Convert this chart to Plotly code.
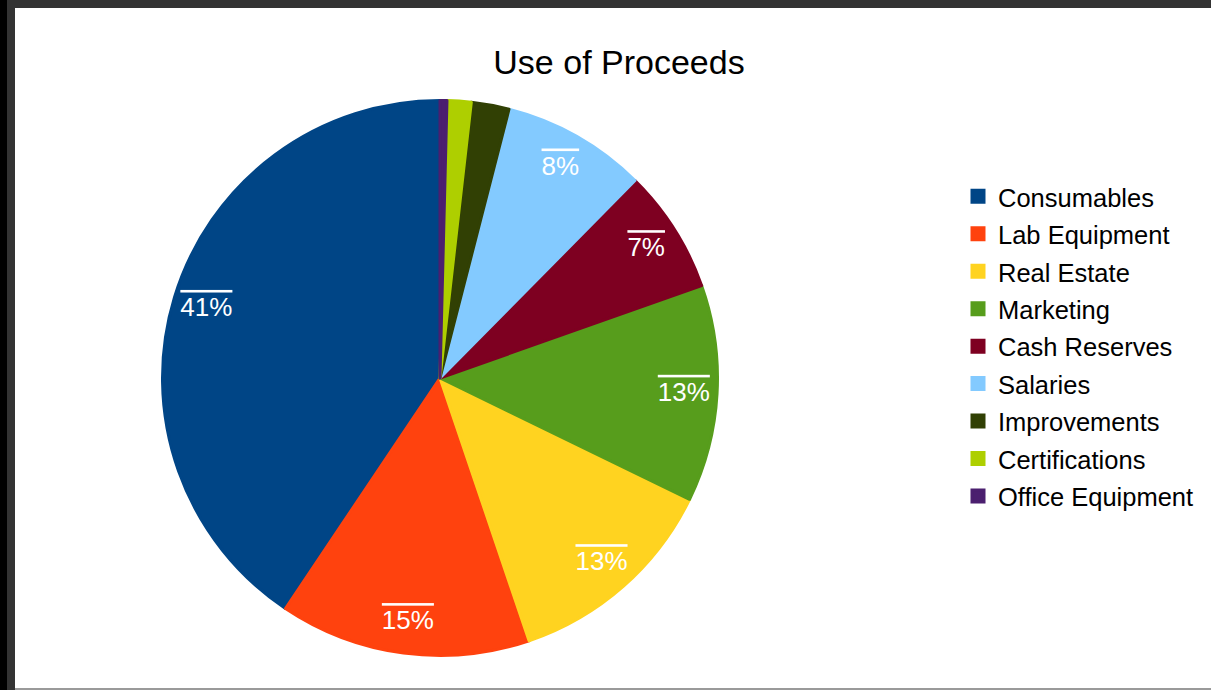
import plotly.graph_objects as go

# ---- data ----
categories = ["Consumables", "Lab Equipment", "Real Estate", "Marketing", "Cash Reserves",
              "Salaries", "Improvements", "Certifications", "Office Equipment"]
values = [40.6, 14.6, 12.6, 12.6, 7.2, 8.4, 2.2, 1.4, 0.4]
colors = ["#004586", "#ff420e", "#ffd320", "#579d1c", "#7e0021",
          "#83caff", "#314004", "#aecf00", "#4b1f6f"]
show_label = [True, True, True, True, True, True, False, False, False]
title_text = "Use of Proceeds"

W, H = 1211, 690
FONT = "Liberation Sans, Arial, sans-serif"

# pie geometry (pixels)
cx, cy, R = 440, 378, 277.5
dom_x = [(cx - R) / W, (cx + R) / W]
dom_y = [(H - cy - R) / H, (H - cy + R) / H]

# plotly's counterclockwise mode ends the first slice at `rotation`;
# shift so that the first slice starts at 12 o'clock instead
rot = -360.0 * values[0] / sum(values)

legend_labels = ["<span style='font-size:25.5px'>%s</span>" % c for c in categories]

fig = go.Figure()

# main pie
fig.add_trace(go.Pie(
    labels=legend_labels, values=values, sort=False, direction="counterclockwise", rotation=rot,
    marker=dict(colors=colors, line=dict(width=3, color=colors)),
    textinfo="none", domain=dict(x=dom_x, y=dom_y), showlegend=True,
    hoverinfo="label+percent",
))

# label layer (transparent ring, positions labels near the rim)
templates = ['<span style="text-decoration:overline">%{percent:.0%}</span>' if s else ""
             for s in show_label]
fig.add_trace(go.Pie(
    labels=legend_labels, values=values, sort=False, direction="counterclockwise", rotation=rot,
    hole=0.76,
    marker=dict(colors=["rgba(0,0,0,0)"] * len(values), line=dict(width=0)),
    texttemplate=templates, textposition="inside", insidetextorientation="horizontal",
    insidetextfont=dict(color="white", size=26, family=FONT),
    domain=dict(x=dom_x, y=dom_y), showlegend=False, hoverinfo="skip",
))

shapes = [
    dict(type="rect", xref="paper", yref="paper", x0=0, x1=7 / W, y0=0, y1=1,
         fillcolor="#000000", line=dict(width=0), layer="above"),
    dict(type="rect", xref="paper", yref="paper", x0=7 / W, x1=15 / W, y0=0, y1=1,
         fillcolor="#333333", line=dict(width=0), layer="above"),
    dict(type="rect", xref="paper", yref="paper", x0=7 / W, x1=1, y0=1 - 8 / H, y1=1,
         fillcolor="#333333", line=dict(width=0), layer="above"),
    dict(type="rect", xref="paper", yref="paper", x0=15 / W, x1=1, y0=0, y1=2 / H,
         fillcolor="#9a9a9a", line=dict(width=0), layer="above"),
]

fig.update_layout(
    width=W, height=H,
    margin=dict(l=0, r=0, t=0, b=0),
    paper_bgcolor="white", plot_bgcolor="white",
    font=dict(family=FONT, color="black"),
    title=dict(text=title_text, x=619 / W, xanchor="center", xref="paper",
               y=1 - 62 / H, yanchor="middle", yref="paper",
               font=dict(size=34, family=FONT, color="black")),
    legend=dict(x=958 / W, xanchor="left", y=1 - 172.6 / H, yanchor="top",
                font=dict(size=26.5, family=FONT, color="black"),
                bgcolor="rgba(0,0,0,0)", borderwidth=0, traceorder="normal"),
    shapes=shapes,
)

fig.write_html("out.html", config={"displayModeBar": False},
               post_script="document.body.style.margin='0';document.body.style.overflow='hidden';")
